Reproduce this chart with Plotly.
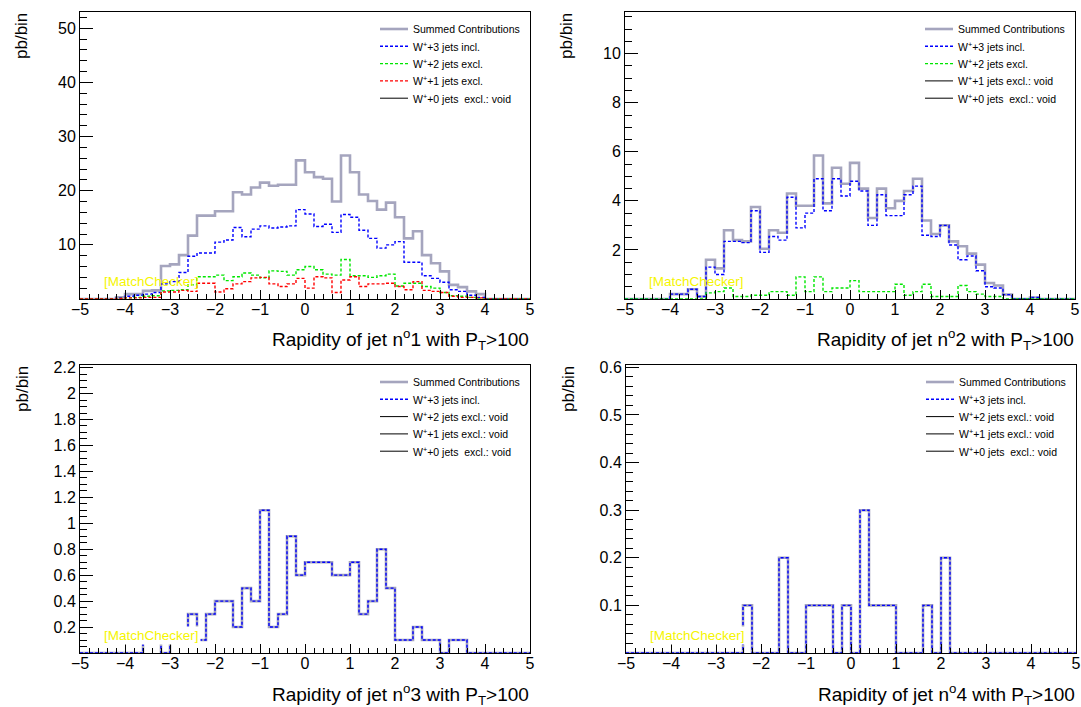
import numpy as np
import plotly.graph_objects as go

# ---------------- data ----------------
bin_edges = np.round(np.linspace(-5, 5, 51), 2)  # 50 bins of width 0.2

def full(d):
    v = [0.0] * 50
    for k, val in d.items():
        v[k] = val
    return v

# Panel 1: rapidity of jet 1
p1_sum = full({4: 0.3, 5: 0.9, 6: 0.9, 7: 1.5, 8: 1.6, 9: 6.1, 10: 6.4, 11: 8.1, 12: 11.7,
               13: 15.4, 14: 15.4, 15: 16.2, 16: 16.2, 17: 19.7, 18: 19.3, 19: 20.6, 20: 21.5,
               21: 20.9, 22: 21.1, 23: 21.1, 24: 25.6, 25: 23.4, 26: 22.5, 27: 22.2, 28: 18.0,
               29: 26.5, 30: 23.4, 31: 19.3, 32: 18.1, 33: 16.5, 34: 17.8, 35: 15.1, 36: 11.2,
               37: 12.5, 38: 8.1, 39: 6.6, 40: 5.1, 41: 2.6, 42: 2.2, 43: 1.4, 44: 0.9})
p1_w3 = full({4: 0.2, 5: 0.5, 6: 0.7, 7: 0.9, 8: 1.2, 9: 2.8, 10: 3.2, 11: 4.9, 12: 7.9,
              13: 8.5, 14: 8.5, 15: 10.5, 16: 10.9, 17: 13.2, 18: 11.5, 19: 12.9, 20: 13.5,
              21: 13.1, 22: 13.3, 23: 13.5, 24: 16.5, 25: 15.7, 26: 13.4, 27: 13.8, 28: 12.3,
              29: 15.6, 30: 15.1, 31: 12.7, 32: 11.2, 33: 9.4, 34: 10.0, 35: 10.6, 36: 6.8,
              37: 6.8, 38: 4.3, 39: 3.8, 40: 3.1, 41: 1.7, 42: 1.4, 43: 0.7, 44: 0.3})
p1_w2 = full({4: 0.1, 5: 0.2, 6: 0.3, 7: 0.5, 8: 0.6, 9: 1.5, 10: 1.6, 11: 1.7, 12: 2.6,
              13: 4.1, 14: 4.1, 15: 4.4, 16: 3.4, 17: 4.1, 18: 4.8, 19: 4.4, 20: 3.9, 21: 5.2,
              22: 5.1, 23: 4.4, 24: 5.4, 25: 6.0, 26: 5.4, 27: 4.6, 28: 4.4, 29: 7.3, 30: 4.3,
              31: 4.3, 32: 4.0, 33: 4.3, 34: 4.6, 35: 2.4, 36: 2.9, 37: 2.9, 38: 2.3, 39: 2.0,
              40: 1.2, 41: 0.6, 42: 0.5, 43: 0.3})
p1_w1 = full({4: 0.1, 5: 0.2, 6: 0.2, 7: 0.3, 8: 0.3, 9: 1.3, 10: 1.3, 11: 1.6, 12: 1.4,
              13: 2.9, 14: 2.9, 15: 1.3, 16: 1.9, 17: 2.8, 18: 3.2, 19: 3.9, 20: 4.0, 21: 2.8,
              22: 2.3, 23: 2.8, 24: 3.8, 25: 2.0, 26: 4.1, 27: 3.9, 28: 1.2, 29: 3.5, 30: 4.1,
              31: 2.3, 32: 2.8, 33: 2.8, 34: 2.9, 35: 2.3, 36: 1.7, 37: 3.2, 38: 1.6, 39: 1.4,
              40: 1.2, 41: 0.5, 42: 0.3, 43: 0.3, 44: 0.2})

# Panel 2: rapidity of jet 2
p2_sum = full({5: 0.2, 6: 0.2, 7: 0.4, 8: 0.1, 9: 1.6, 10: 1.25, 11: 2.8, 12: 2.4, 13: 2.35,
               14: 3.75, 15: 2.05, 16: 2.8, 17: 2.7, 18: 4.3, 19: 3.8, 20: 3.8, 21: 5.85,
               22: 3.9, 23: 5.35, 24: 4.7, 25: 5.55, 26: 4.5, 27: 3.3, 28: 4.5, 29: 3.7,
               30: 4.0, 31: 4.4, 32: 4.9, 33: 3.2, 34: 2.65, 35: 3.0, 36: 2.35, 37: 2.15,
               38: 1.85, 39: 1.4, 40: 0.65, 41: 0.55, 42: 0.18, 45: 0.06})
p2_w3 = full({5: 0.2, 6: 0.2, 7: 0.4, 8: 0.1, 9: 1.3, 10: 1.0, 11: 2.35, 12: 2.35, 13: 2.3,
              14: 3.6, 15: 1.9, 16: 2.55, 17: 2.4, 18: 4.15, 19: 2.9, 20: 3.5, 21: 4.9,
              22: 3.6, 23: 4.9, 24: 4.2, 25: 4.8, 26: 4.4, 27: 3.0, 28: 4.25, 29: 3.4,
              30: 3.4, 31: 4.25, 32: 4.6, 33: 2.6, 34: 2.55, 35: 3.0, 36: 2.2, 37: 1.6,
              38: 1.75, 39: 1.15, 40: 0.5, 41: 0.45, 42: 0.18, 45: 0.06})
p2_w2 = full({9: 0.25, 10: 0.3, 11: 0.45, 12: 0.1, 13: 0.1, 14: 0.15, 15: 0.15, 16: 0.3,
              17: 0.3, 18: 0.15, 19: 0.9, 20: 0.3, 21: 0.9, 22: 0.3, 23: 0.45, 24: 0.45,
              25: 0.75, 26: 0.3, 27: 0.3, 28: 0.3, 29: 0.3, 30: 0.6, 31: 0.15, 32: 0.3,
              33: 0.6, 34: 0.1, 35: 0.1, 36: 0.1, 37: 0.55, 38: 0.3, 39: 0.2, 40: 0.1, 41: 0.1})

# Panel 3: rapidity of jet 3
p3_w3 = full({7: 0.1, 8: 0.1, 10: 0.1, 11: 0.1, 12: 0.3, 13: 0.1, 14: 0.3, 15: 0.4, 16: 0.4,
              17: 0.2, 18: 0.5, 19: 0.4, 20: 1.1, 21: 0.2, 22: 0.3, 23: 0.9, 24: 0.6, 25: 0.7,
              26: 0.7, 27: 0.7, 28: 0.6, 29: 0.6, 30: 0.7, 31: 0.3, 32: 0.4, 33: 0.8, 34: 0.5,
              35: 0.1, 36: 0.1, 37: 0.2, 38: 0.1, 39: 0.1, 41: 0.1, 42: 0.1})
p3_sum = list(p3_w3)

# Panel 4: rapidity of jet 4
p4_w3 = full({13: 0.1, 17: 0.2, 20: 0.1, 21: 0.1, 22: 0.1, 24: 0.1, 26: 0.3, 27: 0.1,
              28: 0.1, 29: 0.1, 33: 0.1, 35: 0.2})
p4_sum = list(p4_w3)

x_titles = ["Rapidity of jet n<sup>o</sup>1 with P<sub>T</sub>>100",
            "Rapidity of jet n<sup>o</sup>2 with P<sub>T</sub>>100",
            "Rapidity of jet n<sup>o</sup>3 with P<sub>T</sub>>100",
            "Rapidity of jet n<sup>o</sup>4 with P<sub>T</sub>>100"]

# ---------------- figure ----------------
W, H = 1081, 707
FONT = "Liberation Sans, Arial, Helvetica, sans-serif"
GRAY = "rgb(165,165,190)"
GREEN = "rgb(0,230,0)"
DASH = "3px,2px"

panels = [
    dict(px=(80, 530), py=(12, 299), ymax=53, dtick=10, minor=2, t0=10,
         series=[("Summed Contributions", p1_sum, "sum"),
                 ("W<sup>+</sup>+3 jets incl.", p1_w3, "blue"),
                 ("W<sup>+</sup>+2 jets excl.", p1_w2, GREEN),
                 ("W<sup>+</sup>+1 jets excl.", p1_w1, "red"),
                 ("W<sup>+</sup>+0 jets  excl.: void", None, "void")]),
    dict(px=(625, 1075), py=(12, 299), ymax=11.7, dtick=2, minor=0.5, t0=2,
         series=[("Summed Contributions", p2_sum, "sum"),
                 ("W<sup>+</sup>+3 jets incl.", p2_w3, "blue"),
                 ("W<sup>+</sup>+2 jets excl.", p2_w2, GREEN),
                 ("W<sup>+</sup>+1 jets excl.: void", None, "void"),
                 ("W<sup>+</sup>+0 jets  excl.: void", None, "void")]),
    dict(px=(80, 530), py=(365, 653), ymax=2.22, dtick=0.2, minor=0.05, t0=0.2,
         series=[("Summed Contributions", p3_sum, "sum"),
                 ("W<sup>+</sup>+3 jets incl.", p3_w3, "blue"),
                 ("W<sup>+</sup>+2 jets excl.: void", None, "void"),
                 ("W<sup>+</sup>+1 jets excl.: void", None, "void"),
                 ("W<sup>+</sup>+0 jets  excl.: void", None, "void")]),
    dict(px=(626, 1076), py=(365, 653), ymax=0.605, dtick=0.1, minor=0.02, t0=0.1,
         series=[("Summed Contributions", p4_sum, "sum"),
                 ("W<sup>+</sup>+3 jets incl.", p4_w3, "blue"),
                 ("W<sup>+</sup>+2 jets excl.: void", None, "void"),
                 ("W<sup>+</sup>+1 jets excl.: void", None, "void"),
                 ("W<sup>+</sup>+0 jets  excl.: void", None, "void")]),
]

def style_of(kind):
    if kind == "void":
        return dict(color="black", width=1)
    if kind == "sum":
        return dict(color=GRAY, width=2.6)
    return dict(color=kind, width=1.4, dash=DASH)

fig = go.Figure()
layout = dict(template="none", width=W, height=H, margin=dict(l=0, r=0, t=0, b=0, pad=0),
              paper_bgcolor="white", plot_bgcolor="white",
              font=dict(family=FONT, color="black"), showlegend=False)
annotations = []
shapes = []

def px2x(v):
    return v / W

def px2y(v):
    return 1 - v / H

for k, p in enumerate(panels):
    n = "" if k == 0 else str(k + 1)
    xa, ya = "x" + n, "y" + n
    x0, x1 = p["px"]
    y0, y1 = p["py"]
    ticks = []
    v = p["t0"]
    while v <= p["ymax"] + 1e-9:
        ticks.append(round(v, 4))
        v += p["dtick"]
    layout["xaxis" + n] = dict(
        domain=[px2x(x0), px2x(x1)], anchor=ya, range=[-5, 5], dtick=1, tick0=0,
        automargin=False,
        ticks="inside", ticklen=9, tickcolor="black", tickwidth=1,
        minor=dict(dtick=0.2, ticklen=5, ticks="inside", tickcolor="black", tickwidth=1),
        showline=True, mirror=True, linecolor="black", linewidth=1,
        showgrid=False, zeroline=False, tickfont=dict(size=16, family=FONT, color="black"),
        ticklabelstandoff=-4)
    layout["yaxis" + n] = dict(
        domain=[px2y(y1), px2y(y0)], anchor=xa, range=[0, p["ymax"]],
        automargin=False,
        tickvals=ticks, ticktext=[("%g" % t) for t in ticks],
        ticks="inside", ticklen=13, tickcolor="black", tickwidth=1,
        minor=dict(dtick=p["minor"], ticklen=7, ticks="inside", tickcolor="black"),
        showline=True, mirror=True, linecolor="black", linewidth=1,
        showgrid=False, zeroline=False, tickfont=dict(size=16, family=FONT, color="black"))

    for j, (name, vals, kind) in enumerate(p["series"]):
        st = style_of(kind)
        if vals is not None:
            ys = list(vals) + [vals[-1]]
            line = dict(st)
            line["shape"] = "hv"
            fig.add_trace(go.Scatter(x=list(bin_edges), y=ys, mode="lines", name=name,
                                     line=line, xaxis=xa, yaxis=ya, hoverinfo="skip"))
        else:
            fig.add_trace(go.Scatter(x=[None], y=[None], mode="lines", name=name,
                                     line=st, xaxis=xa, yaxis=ya, hoverinfo="skip"))
        # legend entry (drawn manually, ROOT TLegend style)
        ly = y0 + 17 + 17.3 * j
        shapes.append(dict(type="line", xref="paper", yref="paper",
                           x0=px2x(x0 + 300), x1=px2x(x0 + 328), y0=px2y(ly), y1=px2y(ly),
                           line=st))
        annotations.append(dict(text=name, xref="paper", yref="paper",
                                x=px2x(x0 + 331), y=px2y(ly), xanchor="left",
                                yanchor="middle", showarrow=False,
                                font=dict(size=10.5, family=FONT, color="black")))

    # axis titles
    annotations.append(dict(text=x_titles[k], xref="paper", yref="paper",
                            x=px2x(x1 + 1), y=px2y(y1 + 41), xanchor="right",
                            yanchor="middle", showarrow=False,
                            font=dict(size=19, family=FONT, color="black")))
    annotations.append(dict(text="pb/bin", xref="paper", yref="paper",
                            x=px2x(x0 - 58), y=px2y(y0 - 1), xanchor="center",
                            yanchor="top", textangle=-90, showarrow=False,
                            font=dict(size=17, family=FONT, color="black")))
    annotations.append(dict(text="[MatchChecker]", xref="paper", yref="paper",
                            x=px2x(x0 + 22), y=px2y(y1 - 18), xanchor="left",
                            yanchor="middle", showarrow=False,
                            bgcolor="white" if k >= 2 else "rgba(0,0,0,0)",
                            borderpad=1,
                            font=dict(size=13.5, family=FONT, color="rgb(245,245,0)")))

layout["annotations"] = annotations
layout["shapes"] = shapes
fig.update_layout(**layout)
fig.write_html("out.html")
